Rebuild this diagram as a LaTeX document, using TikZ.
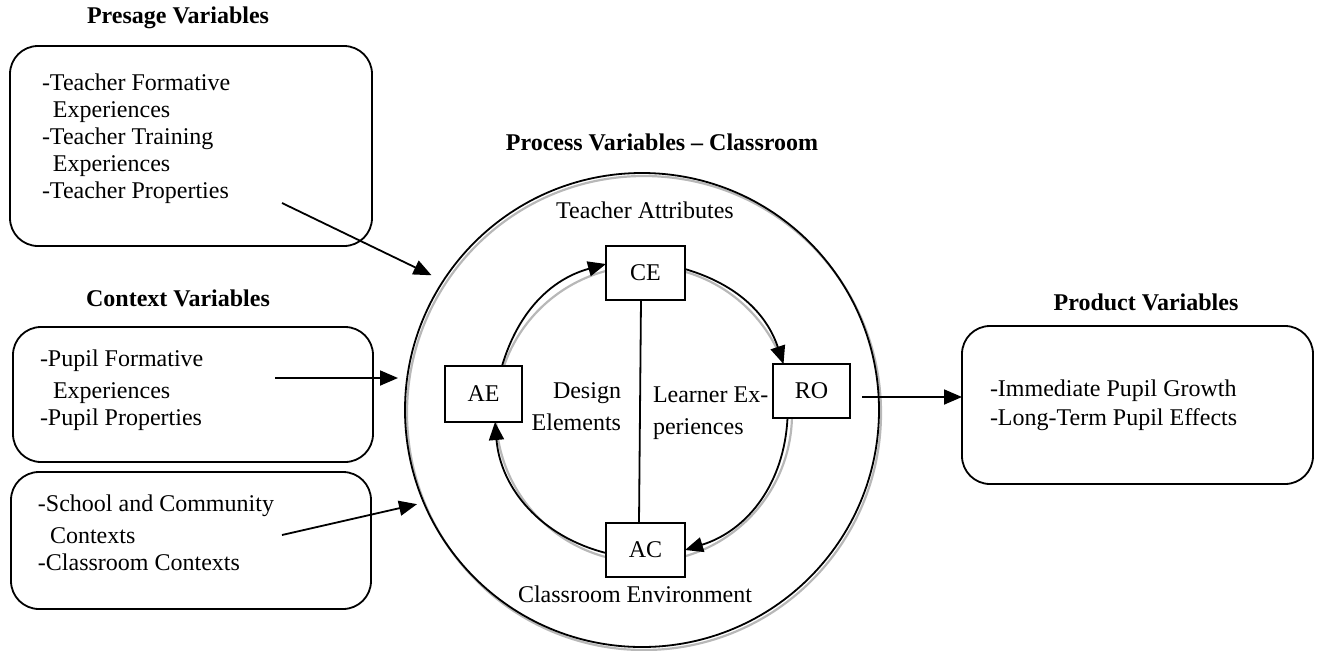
\documentclass[tikz,border=0pt]{standalone}
\usepackage{fontspec}
\setmainfont{Liberation Serif}
\usetikzlibrary{arrows.meta,calc}
\begin{document}
\begin{tikzpicture}[x=0.5pt,y=-0.5pt,
  font=\fontsize{12}{13.5}\selectfont,
  every node/.style={inner sep=0pt, outer sep=0pt},
  rbox/.style={draw, line width=0.9pt, rounded corners=14pt},
  sbox/.style={draw, line width=0.9pt, fill=white, minimum width=39.5pt, minimum height=27pt},
  title/.style={font=\fontsize{12}{13.5}\selectfont\bfseries},
  txt/.style={align=left, anchor=north west},
  arr/.style={line width=0.9pt, -{Triangle[length=9pt,width=7.5pt]}},
  shadowline/.style={draw=black!28, line width=1.1pt}
]
\useasboundingbox (0,0) rectangle (1324,650);

% titles
\node[title] (tpres) at (178,18) {Presage Variables};
\node[title] (tcont) at (178,298) {Context Variables};
\node[title] (tproc) at (662,142) {Process Variables -- Classroom};
\node[title] (tprod) at (1146,302) {Product Variables};

% left and right boxes
\node[rbox, minimum width=181pt, minimum height=100pt] (pres) at (191,146) {};
\node[rbox, minimum width=180pt, minimum height=67.5pt] (cont1) at (193,394.5) {};
\node[rbox, minimum width=180pt, minimum height=68.5pt] (cont2) at (191,540.5) {};
\node[rbox, minimum width=175.5pt, minimum height=79pt] (prod) at (1137.5,405) {};

\node[txt] (prestxt) at (42,73.5) {-Teacher Formative\\\hspace*{5.5pt}Experiences\\-Teacher Training\\\hspace*{5.5pt}Experiences\\-Teacher Properties};
\node[txt] (cont1txt) at (40,349.5) {-Pupil Formative\\[2.5pt]\hspace*{6.5pt}Experiences\\-Pupil Properties};
\node[txt] (cont2txt) at (38,494.5) {-School and Community\\[2.5pt]\hspace*{6pt}Contexts\\-Classroom Contexts};
\node[txt] (prodtxt) at (990,379.5) {-Immediate Pupil Growth\\[1pt]-Long-Term Pupil Effects};

% process circle
\draw[shadowline] (644,413) circle[radius=237];
\draw[shadowline] (644,414) circle[radius=148];
\node[draw, circle, line width=0.9pt, minimum size=237pt] (proc) at (642,410) {};

\node (tattr) at (645,210) {Teacher Attributes};
\node (tenv) at (635,594) {Classroom Environment};
\node[align=right, anchor=north east] (tdes) at (621,382.5) {Design\\[2.5pt]Elements};
\node[align=left, anchor=north west] (tlearn) at (653,386.5) {Learner Ex-\\[2.5pt]periences};

% inner boxes
\node[sbox] (CE) at (645.5,273) {CE};
\node[sbox, minimum width=38.5pt, minimum height=28pt] (AE) at (483.5,394) {AE};
\node[sbox, minimum width=38.5pt] (RO) at (811.5,391) {RO};
\node[sbox] (AC) at (645.5,550) {AC};

% cycle
\draw[arr] ([yshift=2pt]CE.east) to[bend left=27.5] ([xshift=-14pt]RO.north);
\draw[arr] ([xshift=-12pt]RO.south) to[bend left=35] (AC.east);
\draw[arr] ([yshift=-1.5pt]AC.west) to[bend left=35.5] ([xshift=5.75pt]AE.south);
\draw[arr] ([xshift=9.25pt]AE.north) to[bend left=29] ([yshift=4.5pt]CE.west);
\draw[line width=0.9pt] ([xshift=-2.25pt]CE.south) -- ([xshift=-3.25pt]AC.north);

% inputs and output
\coordinate (pa) at (282,203);
\coordinate (pb) at (275,378);
\coordinate (pc) at (282,535);
\draw[arr, shorten >=6.5pt] (pa) -- (proc.147.6);
\draw[arr, shorten >=3.5pt] (pb) -- (pb -| proc.west);
\draw[arr, shorten >=3.5pt] (pc) -- (proc.203.4);
\draw[arr] ([xshift=6pt,yshift=-3pt]RO.east) coordinate (pd) -- (pd -| prod.west);
\end{tikzpicture}
\end{document}
